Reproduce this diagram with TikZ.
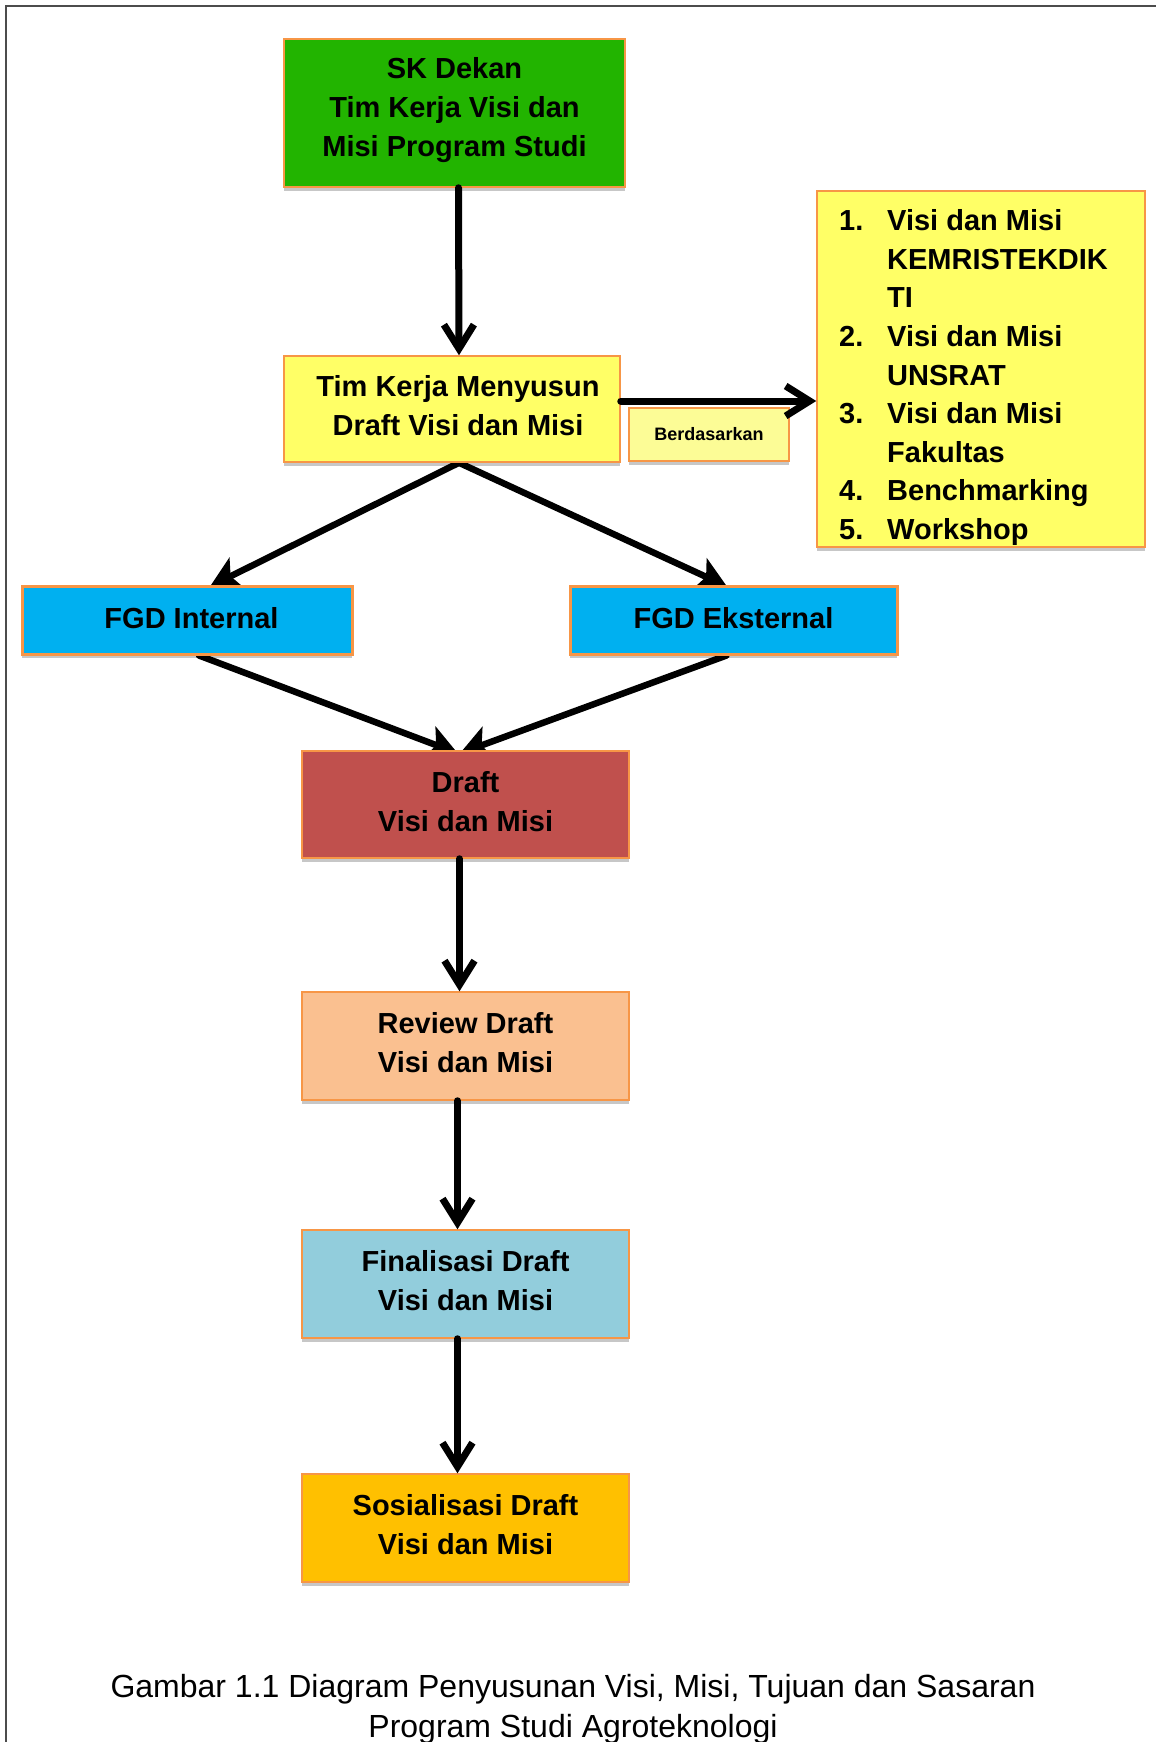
\documentclass[tikz,border=0pt]{standalone}
\usepackage{fontspec}
\setmainfont{Liberation Sans}
\usetikzlibrary{arrows.meta,shadows,calc}
\definecolor{borderor}{RGB}{247,150,70}
\definecolor{skgreen}{RGB}{34,180,0}
\definecolor{timyellow}{RGB}{255,255,102}
\definecolor{berdyellow}{RGB}{252,252,150}
\definecolor{listyellow}{RGB}{255,255,102}
\definecolor{fgdblue}{RGB}{0,176,240}
\definecolor{draftred}{RGB}{192,80,77}
\definecolor{reviewpeach}{RGB}{250,192,144}
\definecolor{finalblue}{RGB}{146,205,220}
\definecolor{sosgold}{RGB}{255,192,0}
\newcommand{\dn}[1]{\rule[-#1pt]{0pt}{0pt}}
\pgfdeclarelayer{bg}
\pgfsetlayers{bg,main}
\begin{document}
\begin{tikzpicture}[x=1pt,y=-1pt,
  box/.style={draw=borderor, line width=1.5pt, rectangle, inner sep=0pt,
    align=center, font=\bfseries\fontsize{29}{39}\selectfont,
    drop shadow={shadow xshift=0pt, shadow yshift=-4pt, opacity=0.22, fill=black}},
  fgdbox/.style={box, line width=3pt, fill=fgdblue, minimum width=330pt, minimum height=68pt},
  stepbox/.style={box, minimum width=327pt, minimum height=108pt},
  conn/.style={line width=7pt, line cap=round,
    -{Straight Barb[length=24pt,width=30pt,line width=7pt 0]}},
  diag/.style={line width=6.5pt, line cap=round,
    -{Stealth[length=30pt,width=34pt,inset=7pt]}}
]
\useasboundingbox (0,0) rectangle (1156,1742);
\begin{pgfonlayer}{bg}
\fill[white] (0,0) rectangle (1156,1742);
\end{pgfonlayer}
% page frame
\draw[line width=1.2pt, black!70] (6,1742) -- (6,6) -- (1156,6);

\node[box, fill=skgreen, minimum width=341pt, minimum height=148pt] (sk) at (454.5,113)
  {SK Dekan\\Tim Kerja Visi dan\\Misi Program Studi\dn{13}};
\node[box, fill=timyellow, minimum width=336pt, minimum height=106pt] (tim) at (452,409)
  {\hspace*{12pt}Tim Kerja Menyusun\\\hspace*{12pt}Draft Visi dan Misi\dn{8}};
\node[box, fill=berdyellow, minimum width=160pt, minimum height=53pt,
  font=\bfseries\fontsize{18}{22}\selectfont] (berd) at (709,434.5) {Berdasarkan};
\node[box, fill=listyellow, minimum width=328pt, minimum height=356pt] (listbox) at (981,369) {};
\node[anchor=north west, inner sep=0pt, align=left,
  font=\bfseries\fontsize{29}{38.6}\selectfont] (list) at (839,209.5)
  {\makebox[48pt][l]{1.}Visi dan Misi\\
   \hspace*{48pt}KEMRISTEKDIK\\
   \hspace*{48pt}TI\\
   \makebox[48pt][l]{2.}Visi dan Misi\\
   \hspace*{48pt}UNSRAT\\
   \makebox[48pt][l]{3.}Visi dan Misi\\
   \hspace*{48pt}Fakultas\\
   \makebox[48pt][l]{4.}Benchmarking\\
   \makebox[48pt][l]{5.}Workshop};

\node[fgdbox] (fgdi) at (187,620) {\hspace*{9pt}FGD Internal\dn{4}};
\node[fgdbox, minimum width=327pt] (fgde) at (733.5,620) {FGD Eksternal\dn{4}};

\node[stepbox, fill=draftred, minimum height=107pt] (draft) at (465.5,804.5) {Draft\\Visi dan Misi\dn{7}};
\node[stepbox, fill=reviewpeach] (review) at (465.5,1046) {Review Draft\\Visi dan Misi\dn{7}};
\node[stepbox, fill=finalblue] (final) at (465.5,1284) {Finalisasi Draft\\Visi dan Misi\dn{7}};
\node[stepbox, fill=sosgold] (sos) at (465.5,1528) {Sosialisasi Draft\\Visi dan Misi\dn{7}};

\node[anchor=north, align=center, inner sep=0pt, font=\fontsize{32}{40}\selectfont] (cap) at (573,1674)
  {Gambar 1.1 Diagram Penyusunan Visi, Misi, Tujuan dan Sasaran\\Program Studi Agroteknologi};

% connectors with filled heads (tips tucked just under the target boxes)
\begin{pgfonlayer}{bg}
\draw[diag] ([xshift=7pt]tim.south) -- ([xshift=23pt,yshift=-2pt]fgdi.north);
\draw[diag] ([xshift=7pt]tim.south) -- ([xshift=-6.5pt,yshift=-2pt]fgde.north);
\draw[diag] ([xshift=12pt]fgdi.south) -- ([xshift=-7.8pt,yshift=-3pt]draft.north);
\draw[diag] ([xshift=-7pt]fgde.south) -- ([xshift=-5.5pt,yshift=-3pt]draft.north);
\end{pgfonlayer}
% connectors with open heads
\draw[conn] ([xshift=4pt]sk.south) -- ([xshift=7pt]tim.north);
\draw[conn] ([yshift=8pt]tim.east) -- ([yshift=-32pt]listbox.west);
\draw[conn] ([xshift=-6pt]draft.south) -- ([xshift=-6pt]review.north);
\draw[conn] ([xshift=-8pt]review.south) -- ([xshift=-8pt]final.north);
\draw[conn] ([xshift=-8pt]final.south) -- ([xshift=-8pt]sos.north);
\end{tikzpicture}
\end{document}
